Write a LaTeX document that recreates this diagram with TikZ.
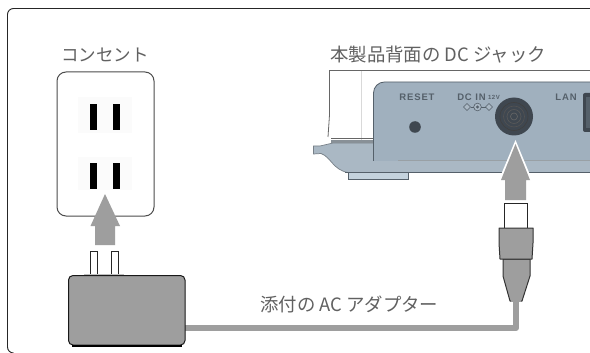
\documentclass[tikz,border=0pt]{standalone}
\usepackage{fontspec}
\newfontfamily\jp{Noto Sans CJK JP}
\newfontfamily\lat[LetterSpace=9]{Liberation Sans}
\definecolor{panel}{HTML}{A0B0BE}
\definecolor{panelb}{HTML}{AAB8C4}
\definecolor{edge}{HTML}{55606A}
\definecolor{foot}{HTML}{C4D2DD}
\definecolor{dark}{HTML}{3F4750}
\definecolor{mid}{HTML}{9E9E9E}
\tikzset{
  lab/.style={font=\jp\fontsize{17.5}{18}\selectfont, text=black!62, inner sep=0pt, anchor=west},
  labwide/.style={lab, font=\jp\fontsize{18.4}{19}\selectfont},
  paneltext/.style={font=\lat\bfseries\fontsize{9.5}{10}\selectfont, text=edge, inner sep=0pt},
  slot/.style={fill=black, draw=none},
  bigarrow/.style={fill=mid, draw=none},
  plugpart/.style={fill=mid, draw=black!80, line width=1pt, line join=round},
  cable/.style={draw=mid, line width=6pt, line join=round}
}
\begin{document}
\begin{tikzpicture}[x=1pt,y=-1pt]
\useasboundingbox (0,0) rectangle (590,353);
\fill[white] (0,0) rectangle (590,353);
% frame
\coordinate (fr1) at (590,8.5);
\coordinate (fr2) at (11,353);
\draw[black!85, line width=0.9pt, rounded corners=6pt] (fr1) -- (7.5,8.5) -- (7.5,353) -- (fr2);
% outlet
\node (outletlabel) [lab] at (61,55) {コンセント};
\draw[black!70, line width=1pt, fill=white, rounded corners=9pt] (57,72) rectangle (154,216);
\fill[black!1.5] (78,97) rectangle (132,133);
\fill[black!1.5] (78,157) rectangle (132,190);
\fill[slot] (89.5,104) rectangle (96.5,130);
\fill[slot] (113,104) rectangle (120,130);
\fill[slot] (89.5,163) rectangle (96.5,189);
\fill[slot] (113,163) rectangle (120,189);
\fill[bigarrow] (105,194) -- (120,226) -- (115,226) -- (115,245) -- (95,245) -- (95,226) -- (90.5,226) -- cycle;
% cable
\coordinate (cablestart) at (180,328);
\coordinate (cablebend) at (516,328);
\coordinate (cableend) at (516,298);
\draw[cable] (cablestart) -- (cablebend) -- (cableend);
% adapter
\draw[black!85,line width=0.9pt,fill=white] (90,275) -- (90,251.5) -- (97.5,251.5) -- (97.5,275);
\draw[black!85,line width=0.9pt,fill=white] (111.5,275) -- (111.5,251.5) -- (118.5,251.5) -- (118.5,275);
\draw[black!25,line width=0.7pt] (84,274.5) -- (124,274.5);
\draw[black!90, line width=1pt, fill=mid, rounded corners=4.5pt] (68.5,275.5) rectangle (185,345);
\draw[black, line width=1.2pt] (72,346) -- (182,346);
\node (cablelabel) [labwide] at (260,304) {添付の AC アダプター};
% device
\node (devlabel) [labwide] at (330,55) {本製品背面の DC ジャック};
\draw[black!60, line width=0.8pt] (590,70.5) -- (329.5,70.5) -- (329.5,115) -- (328,137);
\draw[black!15, line width=0.5pt] (361,71) -- (361,143);
% base
\path[fill=foot, draw=edge, line width=0.5pt] (348,172) -- (348,179.5) -- (408,179.5) -- (408,172) -- cycle;
\path[fill=panelb, draw=edge!80, line width=0.7pt] (374,143) -- (333,143) -- (320,146) -- (313.5,146) -- (313.5,154) -- (321,153.5) .. controls (331,157) and (333,170) .. (348,172.5) -- (374,172.5) -- cycle;
\draw[black!60, line width=0.7pt] (331,138) -- (374,138);
\fill[edge!70] (331,140.5) rectangle (374,143);
\path[fill=panel, rounded corners=11pt] (595,82) -- (373.5,82) -- (373.5,120) [sharp corners] -- (373.5,172.4) -- (595,172.4) -- cycle;
\fill[panelb] (373,161) rectangle (590,172.4);
\draw[edge, line width=0.8pt, rounded corners=11pt] (595,82) -- (373.5,82) -- (373.5,161);
\draw[edge!60, line width=0.7pt] (398,160.5) -- (590,160.5);
\draw[edge, line width=0.9pt] (345,172.8) -- (590,172.8);
\node (reset) [paneltext] at (417,97) {RESET};
\node (dcin) [paneltext] at (471.5,97) {DC IN};
\node (v12) [paneltext, font=\lat\bfseries\fontsize{6}{7}\selectfont] at (494,97.5) {12V};
\node (lan) [paneltext] at (566,97) {LAN};
\fill[dark] (415,127) circle[radius=5.8];
% polarity symbols
\draw[edge, line width=0.6pt, fill=panelb] (463.5,107) -- (467,103.5) -- (470.5,107) -- (467,110.5) -- cycle;
\draw[edge, line width=0.6pt, fill=panelb] (485.5,107) -- (489,103.5) -- (492.5,107) -- (489,110.5) -- cycle;
\draw[edge, line width=0.6pt, fill=panelb] (477.5,107) circle[radius=3.8];
\fill[edge] (477.5,107) circle[radius=1.6];
\draw[edge, line width=0.5pt] (470.5,107) -- (473.7,107) (481.3,107) -- (485.5,107);
% jack
\fill[dark] (514,116.5) circle[radius=19];
\foreach \r/\c in {14/black!50!gray, 10.5/black!35!gray, 7/black!30!gray, 3.5/black!20!gray}{
  \draw[\c, line width=0.6pt] (514,116.5) circle[radius=\r];
}
% LAN port
\fill[dark, rounded corners=2pt] (583,93) rectangle (596,132);
\fill[edge] (586,97) rectangle (596,128);
% arrow
\fill[white] (515.5,140) -- (533,182) -- (498,182) -- cycle;
\fill[bigarrow] (515.5,144) -- (530,180) -- (526,180) -- (526,200) -- (505,200) -- (505,180) -- (501,180) -- cycle;
% plug
\draw[black!85,line width=1pt,fill=white] (504,228) -- (504,203) -- (527,203) -- (527,228);
\draw[plugpart] (503,259) -- (503,276) -- (510,301) -- (522,301) -- (530,276) -- (530,259) -- cycle;
\draw[plugpart] (499,228) -- (533,228) -- (533,243) -- (532,259) -- (500,259) -- (499,243) -- cycle;
\fill[mid] (511,300) rectangle (521,302);
\end{tikzpicture}
\end{document}
